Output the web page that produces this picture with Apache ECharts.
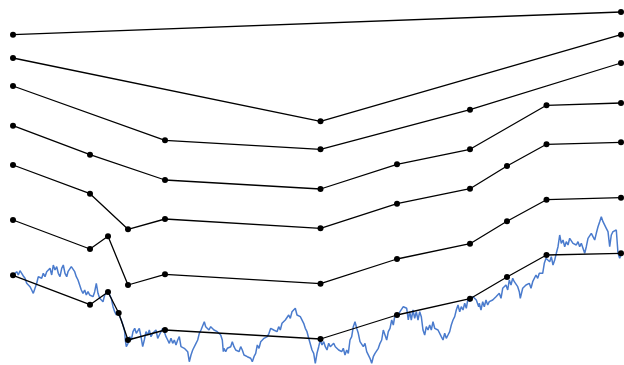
<!DOCTYPE html>
<html>
<head>
<meta charset="utf-8">
<script src="https://cdn.jsdelivr.net/npm/echarts@6/dist/echarts.min.js"></script>
<style>
  html, body { margin: 0; padding: 0; background: #fff; }
  #chart { width: 624px; height: 365px; }
</style>
</head>
<body>
<div id="chart"></div>
<script>
// Raw random-walk signal: sample time and value
const walkT = [0,2,3.7,5.3,7,8.7,10.3,12,13.7,15.3,17,18.7,20.3,22,23.7,25.3,27,28.7,30.3,32,33.7,35.3,37,38.7,40.3,42,43.7,45.3,47,48.7,50.3,52,53.7,
  55,56.7,58.3,60,61.7,63.3,65,66.7,68.3,70,71.7,73.3,75,76.7,78.3,80,81.7,83.3,85,86.7,88.3,90,91.7,93.3,95,96.7,98.3,100,101.7,103.3,105,106.7,108.3,110,111.7,112.3,113.3,115,116.7,118.3,120,121.7,123.3,
  124.7,126.3,128,129.7,131.3,133,134.7,136.3,138,139.7,141.3,143,144.7,146.3,148,149.7,151.3,153,154.7,156.3,158,159.7,161.3,163,164.7,166.3,168,169.7,171.3,173,174.7,176.3,178,179.7,181.3,183,184.7,186.3,188,189.7,191.3,
  192.7,194.3,196,197.7,199.3,201,202.7,204.3,206,207.7,209.3,210.3,211,212.7,214.3,216,217.7,219.3,221,222.7,224.3,226,227.7,229.3,231,232.7,234.3,236,237.7,239.3,241,242.7,244.3,246,247.7,249.3,251,252.7,254.3,256,257.7,259.3,
  260.7,262.3,264,265.7,267.3,269,270.7,272.3,274,275.7,277.3,279,280.7,282.3,284,285.7,287.3,289,290.7,292.3,294,295.7,297.3,299,300.7,302.3,304,305.7,307.3,309,310.7,312.3,314,315.7,317.3,319,320.7,322.3,324,325.7,327.3,
  328.7,330.3,332,333.7,335.3,337,338.7,340.3,342,343.7,345.3,347,348.7,350.3,352,353.7,355.3,357,358.7,360.3,362,363.7,365.3,367,368.7,370.3,372,373.7,375.3,377,378.7,380.3,382,383.7,385.3,387,388.7,390.3,392,393.7,395.3,
  396.7,398.3,400,401.7,403.3,405,406.7,408.3,410,411.7,413.3,415,416.7,418.3,420,421.7,423.3,425,426.7,428.3,430,431.7,433.3,435,436.7,438.3,440,441.7,443.3,445,446.7,448.3,450,451.7,453.3,455,456.7,458.3,460,461.7,463.3,
  464.7,465.7,466.3,468,469.7,471.3,473,474.7,476.3,478,479.7,481.3,483,484.7,486.3,488,489.7,491.3,493,494.7,496.3,498,499.7,501.3,503,504.7,506.3,507.3,508,509.7,511.3,513,514.7,516.3,518,519.7,521.3,523,524.7,526.3,528,529.7,531.3,533,534.7,
  536.7,538.3,540,541.7,543.3,545,546.7,548.3,550,551.7,553.3,555,556.7,558.3,560,561.7,563.3,565,566.7,568.3,570,571.7,573.3,575,576.7,578.3,580,581.7,583.3,585,586.7,588.3,590,591.7,593.3,595,596.7,598.3,600,601.7,603.3,605,606.7,608];
const walkV = [90,91.7,93.3,90,94.3,91.7,89,86.7,81.7,83.3,78.3,75,71.7,76.7,81.7,88.3,90,86.7,91.7,88.3,93.3,91.7,96.7,90,100,95,98.3,91.7,88.3,96.7,100,91.7,88.3,
  93.3,95,98.3,100,93.3,88.3,85,83.3,75,71.7,75,70,73.3,70,71.7,68.3,73.3,81.7,71.7,66.7,68.3,63.3,70,68.3,73.3,73.3,66.7,58.3,53.3,50,53.3,48.3,45,40,33.3,25,18.3,21.7,28.3,25,33.3,36.7,31.7,
  33.3,36.7,28.3,18.3,25,33.3,30,35,28.3,31.7,30,35,26.7,30,31.7,36.7,33.3,28.3,25,21.7,26.7,21.7,25,20,25,28.3,18.3,20,16.7,18.3,13.3,3.3,10,15,13.3,21.7,25,31.7,35,36.7,43.3,
  38.3,40,35,38.3,36.7,35,36.7,33.3,35,30,25,13.3,16.7,13.3,16.7,15,18.3,23.3,18.3,15,16.7,13.3,18.3,15,10,11.7,8.3,10,6.7,3.3,8.3,11.7,20,16.7,23.3,21.7,26.7,25,28.3,31.7,36.7,36.7,
  35,36.7,33.3,38.3,35,41.7,40,45,43.3,50,46.7,53.3,55,56.7,50,51.7,48.3,46.7,41.7,36.7,33.3,26.7,25,15,11.7,1.7,11.7,18.3,25,20,23.3,18.3,15,21.7,18.3,16.7,21.7,18.3,16.7,15,16.7,
  13.3,16.7,10,15,11.7,25,28.3,38.3,43.3,36.7,31.7,23.3,25,18.3,21.7,13.3,11.7,6.7,1.7,8.3,11.7,10,16.7,21.7,25,35,30,25,33.3,36.7,45,40,50,51.7,50,53.3,55,58.3,60,56.7,45,
  53.3,45,55,46.7,53.3,45,53.3,48.3,35,30,38.3,35,40,35,43.3,36.7,38.3,35,36.7,28.3,25,31.7,26.7,30,33.3,40,45,48.3,55,60,53.3,58.3,55,61.7,56.7,66.7,63.3,65,68.3,66.7,65,
  65,58.3,61.7,55,63.3,58.3,65,60,63.3,61.7,65,63.3,68.3,66.7,71.7,66.7,76.7,75,80,75,85,80,86.7,83.3,85,78.3,73.3,66.7,68.3,76.7,75,80,78.3,81.7,76.7,83.3,83.3,90,86.7,91.7,93.3,91.7,101.7,106.7,105,
  103.3,108.3,100,105,111.7,118.3,130,121.7,125,118.3,123.3,120,126.7,128.3,121.7,123.3,120,123.3,118.3,121.7,120,111.7,118.3,126.7,128.3,131.7,128.3,125,131.7,138.3,143.3,148.3,143.3,145,136.7,133.3,118.3,130,133.3,131.7,135,111.7,106.7,110];

// Simplified versions of the signal, each shifted upward (level 1 = coarsest)
const level1T = [0, 608];
const level1V = [330.3, 353];
const level2T = [0, 307.5, 608];
const level2V = [307, 243.7, 330.3];
const level3T = [0, 152, 307.5, 457, 608];
const level3V = [279, 224.7, 215.7, 255.3, 302];
const level4T = [0, 77, 152, 307.5, 384, 457, 533.5, 608];
const level4V = [239.3, 210.3, 185, 176, 200.7, 215.7, 259.7, 262];
const level5T = [0, 77, 115, 152, 307.5, 384, 457, 494, 533.5, 608];
const level5V = [200, 171.3, 135.7, 146, 136.7, 161.3, 176.3, 199, 220.7, 222.7];
const level6T = [0, 77, 95, 115, 152, 307.5, 384, 457, 494, 533.5, 608];
const level6V = [145, 116, 128.7, 80, 90.7, 81.3, 106, 121.3, 143.7, 165.3, 167.3];
const level7T = [0, 77, 95, 105.7, 115, 152, 307.5, 384, 457, 494, 533.5, 608];
const level7V = [89.7, 60.3, 73, 52, 25, 35, 26, 50, 66.3, 88, 110, 111.7];

const zip = (t, v) => t.map((x, i) => [x, v[i]]);

const levels = [
  [level1T, level1V], [level2T, level2V], [level3T, level3V], [level4T, level4V],
  [level5T, level5V], [level6T, level6V], [level7T, level7V]
];

const chart = echarts.init(document.getElementById('chart'), null, { renderer: 'canvas' });

const series = [{
  type: 'line',
  data: zip(walkT, walkV),
  showSymbol: false,
  symbol: 'none',
  clip: false,
  z: 1,
  lineStyle: { color: '#4a7bcd', width: 1.5 },
  animation: false
}];

levels.forEach(([t, v]) => {
  series.push({
    type: 'line',
    data: zip(t, v),
    symbol: 'circle',
    symbolSize: 6,
    showAllSymbol: true,
    clip: false,
    z: 2,
    itemStyle: { color: '#000' },
    lineStyle: { color: '#000', width: 1.3 },
    animation: false
  });
});

chart.setOption({
  animation: false,
  grid: { left: 13, right: 3, top: 0, bottom: 0 },
  xAxis: { type: 'value', min: 0, max: 608, show: false },
  yAxis: { type: 'value', min: 0, max: 365, show: false },
  series
});
</script>
</body>
</html>
